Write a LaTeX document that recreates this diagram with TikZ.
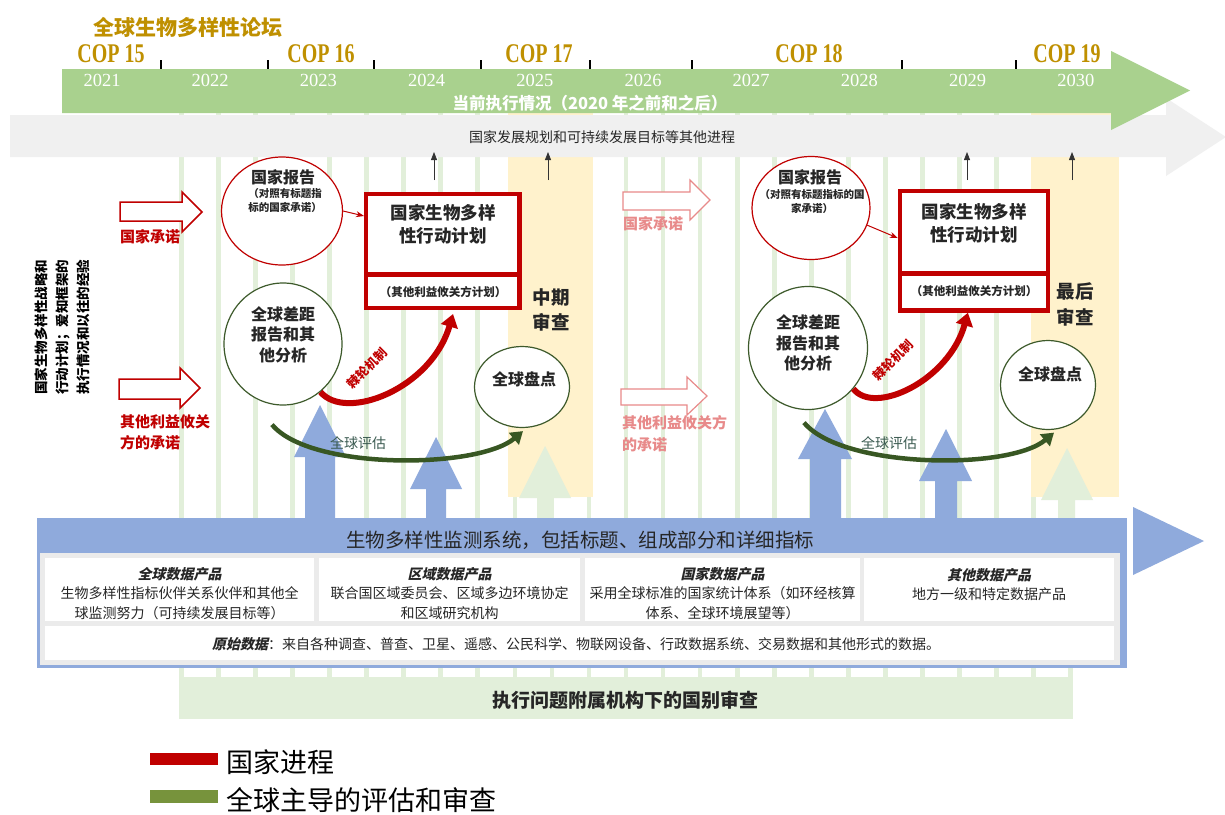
\documentclass[tikz,border=0pt]{standalone}
\usepackage{fontspec}
\setmainfont{Noto Sans CJK SC}
\newfontfamily\cjksl[FakeSlant=0.22]{Noto Sans CJK SC}
\newfontfamily\yrfont{Liberation Serif}
\newfontfamily\copfont[FakeStretch=0.74]{Liberation Serif}
\usetikzlibrary{arrows.meta,shapes.geometric}
\newcommand\fsz[2]{\fontsize{#1}{#2}\selectfont}
\definecolor{goldc}{HTML}{BF9000}
\definecolor{greenbar}{HTML}{A9D18E}
\definecolor{greyband}{HTML}{F0F0F0}
\definecolor{stripec}{HTML}{E2EFDA}
\definecolor{yellowc}{HTML}{FFF2CC}
\definecolor{redc}{HTML}{C00000}
\definecolor{pinkc}{HTML}{E88A8A}
\definecolor{dgreen}{HTML}{3D5A2B}
\definecolor{arrowgreen}{HTML}{385723}
\definecolor{bluec}{HTML}{8FAADC}
\definecolor{panelc}{HTML}{EBEBEB}
\definecolor{legreen}{HTML}{77933C}
\definecolor{evalc}{HTML}{3A5A50}
\definecolor{txtc}{HTML}{262626}
\begin{document}
\begin{tikzpicture}[x=1pt,y=-1pt,
  lbl/.style={inner sep=0pt, outer sep=0pt},
  yr/.style={lbl, font=\yrfont\fsz{18.5}{20}, text=white},
  cop/.style={lbl, font=\copfont\bfseries\fsz{27}{28}, text=goldc},
  redlbl/.style={lbl, font=\bfseries\fsz{15}{21.5}, text=redc, align=left},
  pinklbl/.style={lbl, font=\bfseries\fsz{15}{22.5}, text=pinkc, align=left},
  hollowred/.style={draw=redc, line width=1.5pt, fill=white, line join=miter},
  hollowpink/.style={draw=pinkc, line width=1.2pt, fill=white, line join=miter},
  redell/.style={ellipse, draw=redc, line width=1.2pt, fill=white, inner sep=0pt},
  greenell/.style={ellipse, draw=dgreen, line width=1.2pt, fill=white, inner sep=0pt},
  ctitle/.style={lbl, font=\bfseries\fsz{16}{20.5}, text=txtc, align=center},
  csub/.style={lbl, font=\bfseries\fsz{10.5}{14}, text=txtc, align=center},
  redframe/.style={fill=redc, inner sep=0pt, outer sep=0pt},
  whitecell/.style={fill=white, inner sep=0pt, outer sep=0pt},
  nbtitle/.style={lbl, font=\bfseries\fsz{17.5}{23}, text=txtc, align=center},
  nbsub/.style={lbl, font=\bfseries\fsz{11.5}{14}, text=txtc},
  bigbold/.style={lbl, font=\bfseries\fsz{18.5}{25.5}, text=txtc, align=center},
  thinred/.style={draw=redc, line width=1pt, -{Stealth[length=8pt,width=6pt]}},
  ratchet/.style={draw=redc, line width=6pt, -{Triangle[width=17pt,length=13pt]}},
  evalarrow/.style={draw=arrowgreen, line width=4.5pt, -{Triangle[width=15pt,length=12pt]}},
  smallarr/.style={draw=black!80, line width=0.8pt, -{Triangle[width=6pt,length=8pt]}},
  wbox/.style={fill=white, inner sep=0pt, outer sep=0pt},
  boxtxt/.style={lbl, font=\fsz{14}{19.5}, text=txtc, align=center},
  legtxt/.style={lbl, font=\fsz{27}{30}, text=black}
]
\useasboundingbox (0,0) rectangle (1225,814);
\fill[white] (0,0) rectangle (1225,814);

% background stripes and bottom band
\foreach \i in {0,...,24}{\fill[stripec] ({179+37.06*\i},113) rectangle ++(4.6,564);}
\fill[stripec] (179,677) rectangle (1073,719);
\node[lbl, font=\bfseries\fsz{19}{20}, text=txtc] (rev) at (625,700) {执行问题附属机构下的国别审查};

% review columns
\fill[yellowc] (508,113) rectangle (593,497);
\fill[yellowc] (1031,113) rectangle (1119,497);
\fill[stripec] (537,520) -- (537,498) -- (519,498) -- (545,446) -- (571,498) -- (553,498) -- (553,520) -- cycle;
\fill[stripec] (1058,520) -- (1058,500) -- (1041,500) -- (1067,448) -- (1093,500) -- (1075,500) -- (1075,520) -- cycle;

% grey arrow
\fill[greyband] (10,115) -- (1166,115) -- (1166,98) -- (1226,137) -- (1166,176) -- (1166,157) -- (10,157) -- cycle;
\node[lbl, font=\fsz{14}{16}, text=txtc] (other) at (602,137) {国家发展规划和可持续发展目标等其他进程};

% green timeline arrow
\fill[greenbar] (62,69) -- (1111,69) -- (1111,51) -- (1190,90.5) -- (1111,130) -- (1111,113) -- (62,113) -- cycle;
\foreach \x in {161,268,374,481,590,692,902,1016}{\draw[line width=1.5pt] (\x,60) -- (\x,69);}
\foreach \y [count=\i from 0] in {2021,2022,2023,2024,2025,2026,2027,2028,2029,2030}{
  \node[yr] (yr\i) at ({102+108.2*\i},80) {\y};}
\node[lbl, font=\bfseries\fsz{16.5}{18}, text=white] (cur) at (590,103) {当前执行情况（2020 年之前和之后）};

% title and COPs
\node[lbl, font=\bfseries\fsz{21}{22}, text=goldc] (forum) at (188,27) {全球生物多样性论坛};
\node[cop] (cop15) at (111,54) {COP 15};
\node[cop] (cop16) at (321,54) {COP 16};
\node[cop] (cop17) at (539,54) {COP 17};
\node[cop] (cop18) at (809,54) {COP 18};
\node[cop] (cop19) at (1067,54) {COP 19};

% small arrows into grey band
\coordinate (s1a) at (434,180); \coordinate (s1b) at (434,152);
\coordinate (s2a) at (548,180); \coordinate (s2b) at (548,152);
\coordinate (s3a) at (967,180); \coordinate (s3b) at (967,152);
\coordinate (s4a) at (1072,180); \coordinate (s4b) at (1072,152);
\draw[smallarr] (s1a) -- (s1b);
\draw[smallarr] (s2a) -- (s2b);
\draw[smallarr] (s3a) -- (s3b);
\draw[smallarr] (s4a) -- (s4b);

% blue up arrows
\fill[bluec] (305,520) -- (305,457) -- (294,457) -- (320,405) -- (346,457) -- (335,457) -- (335,520) -- cycle;
\fill[bluec] (426,520) -- (426,489) -- (410,489) -- (436,437) -- (462,489) -- (446,489) -- (446,520) -- cycle;
\fill[bluec] (810,520) -- (810,459) -- (798,459) -- (825,409) -- (852,459) -- (841,459) -- (841,520) -- cycle;
\fill[bluec] (935,520) -- (935,481) -- (919,481) -- (946,429) -- (972,481) -- (957,481) -- (957,520) -- cycle;

% monitoring system
\fill[bluec] (37,518) rectangle (1127,668);
\fill[bluec] (1133,507) -- (1204,541) -- (1133,575) -- cycle;
\fill[panelc] (40,553) rectangle (1120,665);
\node[lbl, font=\fsz{19.5}{21}, text=txtc] (mon) at (580,540) {生物多样性监测系统，包括标题、组成部分和详细指标};
\node[wbox, minimum width=269pt, minimum height=63pt] (b1) at (179.5,589.5) {};
\node[wbox, minimum width=261pt, minimum height=63pt] (b2) at (449.5,589.5) {};
\node[wbox, minimum width=275pt, minimum height=63pt] (b3) at (722.5,589.5) {};
\node[wbox, minimum width=250pt, minimum height=63pt] (b4) at (989,589.5) {};
\node[wbox, minimum width=1069pt, minimum height=34pt] (b5) at (579.5,643) {};
\node[boxtxt] (b1t) at (179.5,593.5) {{\cjksl\bfseries 全球数据产品}\\生物多样性指标伙伴关系伙伴和其他全\\球监测努力（可持续发展目标等）};
\node[boxtxt] (b2t) at (449.5,593.5) {{\cjksl\bfseries 区域数据产品}\\联合国区域委员会、区域多边环境协定\\和区域研究机构};
\node[boxtxt] (b3t) at (722.5,593.5) {{\cjksl\bfseries 国家数据产品}\\采用全球标准的国家统计体系（如环经核算\\体系、全球环境展望等）};
\node[boxtxt] (b4t) at (989,584.5) {{\cjksl\bfseries 其他数据产品}\\地方一级和特定数据产品};
\node[boxtxt] (b5t) at (576,644) {{\cjksl\bfseries 原始数据}：来自各种调查、普查、卫星、遥感、公民科学、物联网设备、行政数据系统、交易数据和其他形式的数据。};

% left vertical text
\node[lbl, rotate=90, font=\bfseries\fsz{13.5}{21}, text=black, align=center] (vt) at (62,327) {国家生物多样性战略和\\行动计划；爱知框架的\\执行情况和以往的经验};

% commitment arrows
\draw[hollowred] (120,202) -- (182,202) -- (182,192) -- (202,212) -- (182,232) -- (182,221) -- (120,221) -- cycle;
\draw[hollowred] (119,379) -- (180,379) -- (180,368) -- (200,388) -- (180,408) -- (180,399) -- (119,399) -- cycle;
\draw[hollowpink] (623,192) -- (690,192) -- (690,180) -- (710,200) -- (690,220) -- (690,210) -- (623,210) -- cycle;
\draw[hollowpink] (621,389) -- (687,389) -- (687,377) -- (707,396) -- (687,415) -- (687,405) -- (621,405) -- cycle;
\node[redlbl, anchor=west] (nc1) at (120,237) {国家承诺};
\node[redlbl, anchor=west] (oc1) at (120,432.5) {其他利益攸关\\方的承诺};
\node[pinklbl, anchor=west] (nc2) at (623,224) {国家承诺};
\node[pinklbl, anchor=west] (oc2) at (622,433.5) {其他利益攸关方\\的承诺};

% ---- left cycle ----
\node[redell, minimum width=121pt, minimum height=108pt] (rep1) at (282,211) {};
\node[ctitle] (rep1t) at (283,177) {国家报告};
\node[csub] (rep1s) at (285,201) {（对照有标题指\\标的国家承诺）};
\node[redframe, minimum width=158pt, minimum height=118pt] (nbo1) at (443,251) {};
\node[whitecell, minimum width=149pt, minimum height=76pt] (nb1) at (442.8,233.7) {};
\node[whitecell, minimum width=149pt, minimum height=29.5pt] (nbs1) at (442.8,291.4) {};
\node[nbtitle] (nb1t) at (443,224.5) {国家生物多样\\性行动计划};
\node[nbsub] (nbs1t) at (443,292) {（其他利益攸关方计划）};
\node[bigbold] (mid) at (551,310) {中期\\审查};
\node[greenell, minimum width=118pt, minimum height=122pt] (gap1) at (283,344) {};
\node[ctitle] (gap1t) at (283,334.5) {全球差距\\报告和其\\他分析};
\node[greenell, minimum width=95pt, minimum height=81pt] (st1) at (522,387) {};
\node[ctitle] (st1t) at (524,379) {全球盘点};
\draw[thinred] (rep1.east) -- ([yshift=35pt]nbo1.west);
\draw[ratchet] (gap1.-52) .. controls +(25,30) and +(-22,75) .. ([xshift=10pt,yshift=-4pt]nbo1.south);
\node[lbl, rotate=45, font=\bfseries\fsz{12.5}{14}, text=redc] (rt1) at (367,368) {棘轮机制};
\draw[evalarrow] ([xshift=-11pt,yshift=-19pt]gap1.south) .. controls +(38,46) and +(-45,38) .. ([xshift=1pt,yshift=-3pt]st1.south);
\node[lbl, font=\fsz{14}{16}, text=evalc] (ev1) at (358,443) {全球评估};

% ---- right cycle ----
\node[redell, minimum width=118pt, minimum height=103pt] (rep2) at (811,208) {};
\node[ctitle] (rep2t) at (810,177) {国家报告};
\node[csub] (rep2s) at (812,201.5) {（对照有标题指标的国\\家承诺）};
\node[redframe, minimum width=152.3pt, minimum height=123.4pt] (nbo2) at (973.9,251) {};
\node[whitecell, minimum width=144.3pt, minimum height=77.4pt] (nb2) at (973.9,232) {};
\node[whitecell, minimum width=144.3pt, minimum height=32.3pt] (nbs2) at (973.9,292.2) {};
\node[nbtitle] (nb2t) at (974,223.5) {国家生物多样\\性行动计划};
\node[nbsub] (nbs2t) at (974,291) {（其他利益攸关方计划）};
\node[bigbold] (fin) at (1075,304.5) {最后\\审查};
\node[greenell, minimum width=119pt, minimum height=123pt] (gap2) at (808,348) {};
\node[ctitle] (gap2t) at (808,343) {全球差距\\报告和其\\他分析};
\node[greenell, minimum width=95pt, minimum height=89pt] (st2) at (1048,385) {};
\node[ctitle] (st2t) at (1050,374) {全球盘点};
\draw[thinred] (rep2.-17) -- ([yshift=13pt]nbo2.west);
\draw[ratchet] (gap2.-42) .. controls +(21,27) and +(-19,68) .. ([xshift=-6pt]nbo2.south);
\node[lbl, rotate=45, font=\bfseries\fsz{12.5}{14}, text=redc] (rt2) at (893,360) {棘轮机制};
\draw[evalarrow] ([xshift=-4pt,yshift=-12.5pt]gap2.south) .. controls +(38,46) and +(-45,38) .. ([xshift=6pt,yshift=-2.5pt]st2.south);
\node[lbl, font=\fsz{14}{16}, text=evalc] (ev2) at (889,443) {全球评估};

% legend
\node[fill=redc, minimum width=68pt, minimum height=12pt, inner sep=0pt] (lgr) at (184,759) {};
\node[legtxt, anchor=west] (lg1) at (226,762) {国家进程};
\node[fill=legreen, minimum width=68pt, minimum height=13pt, inner sep=0pt] (lgg) at (184,796.5) {};
\node[legtxt, anchor=west] (lg2) at (226,800) {全球主导的评估和审查};
\end{tikzpicture}
\end{document}
